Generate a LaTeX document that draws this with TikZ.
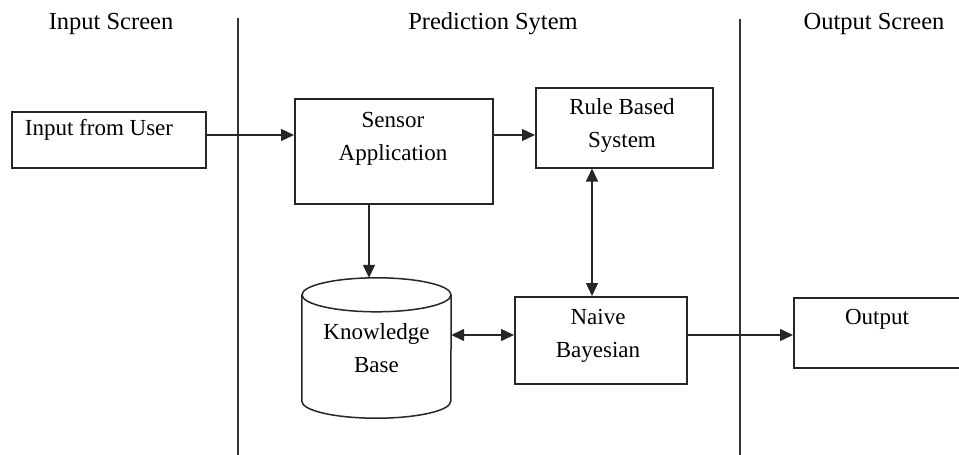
\documentclass[tikz,border=0pt]{standalone}
\usepackage{fontspec}
\setmainfont{Liberation Serif}
\usetikzlibrary{arrows.meta,calc}

\tikzset{
  box/.style={draw=black!85, line width=1.5pt, inner sep=0pt, anchor=north west},
  lbl/.style={inner sep=0pt, align=center, font=\fontsize{23}{33}\selectfont},
  head/.style={inner sep=0pt, font=\fontsize{24.5}{30}\selectfont},
  lane/.style={draw=black!80, line width=1.4pt},
  arr/.style={draw=black!85, line width=1.4pt, -{Triangle[length=13pt,width=12pt]}},
  darr/.style={draw=black!85, line width=1.4pt, {Triangle[length=13pt,width=12pt]}-{Triangle[length=13pt,width=12pt]}},
}

\begin{document}
\begin{tikzpicture}[x=1pt, y=-1pt]
  \useasboundingbox (0,0) rectangle (959,455);
  \clip (0,0) rectangle (959,455);

  % lane headings
  \node[head] (h-in)   at (111,24) {Input Screen};
  \node[head] (h-pred) at (493,24) {Prediction Sytem};
  \node[head] (h-out)  at (874,24) {Output Screen};

  % lane separators
  \coordinate (l1a) at (238,18);  \coordinate (l1b) at (238,455);
  \coordinate (l2a) at (740,19);  \coordinate (l2b) at (740,455);
  \draw[lane] (l1a) -- (l1b);
  \draw[lane] (l2a) -- (l2b);

  % boxes
  \node[box, minimum width=194pt, minimum height=56pt]  (input)  at (11,111)  {};
  \node[box, minimum width=198pt, minimum height=105pt] (sensor) at (294,98)  {};
  \node[box, minimum width=177pt, minimum height=80pt]  (rule)   at (535,87)  {};
  \node[box, minimum width=172pt, minimum height=87pt]  (naive)  at (514,296) {};
  \node[box, minimum width=230pt, minimum height=70pt]  (output) at (793,297) {};

  % box labels
  \node[lbl] (input-t)  at (99,130)    {Input from User};
  \node[lbl] (sensor-t) at (393,138.5) {Sensor\\Application};
  \node[lbl] (rule-t)   at (622,125.5) {Rule Based\\System};
  \node[lbl] (naive-t)  at (598,335.5) {Naive\\Bayesian};
  \node[lbl] (output-t) at (877,319)   {Output};

  % knowledge base cylinder
  \node[minimum width=149pt, minimum height=140pt, inner sep=0pt] (kb) at (376.5,348) {};
  \draw[draw=black!85, line width=1.5pt, fill=white]
    ($(kb.north west)+(0,17)$) -- ($(kb.south west)+(0,-17)$)
    arc[start angle=180, end angle=360, x radius=74.5pt, y radius=17pt]
    -- ($(kb.north east)+(0,17)$);
  \draw[draw=black!85, line width=1.5pt]
    ($(kb.north)+(0,17)$) ellipse[x radius=74.5pt, y radius=17pt];
  \node[lbl] (kb-t) at (376.5,348) {Knowledge\\Base};

  % guide rows/columns for connectors
  \coordinate (row1) at (0,135);
  \coordinate (row2) at (0,335);
  \coordinate (colkb) at (369,0);
  \coordinate (colnb) at (592,0);

  % connectors
  \draw[arr]  (input.east |- row1)  -- (sensor.west |- row1);
  \draw[arr]  (sensor.east |- row1) -- (rule.west |- row1);
  \draw[arr]  (sensor.south -| colkb) -- (kb.north -| colkb);
  \draw[darr] (rule.south -| colnb) -- (naive.north -| colnb);
  \draw[darr] (kb.east |- row2) -- (naive.west |- row2);
  \draw[arr]  (naive.east |- row2) -- (output.west |- row2);
\end{tikzpicture}
\end{document}
